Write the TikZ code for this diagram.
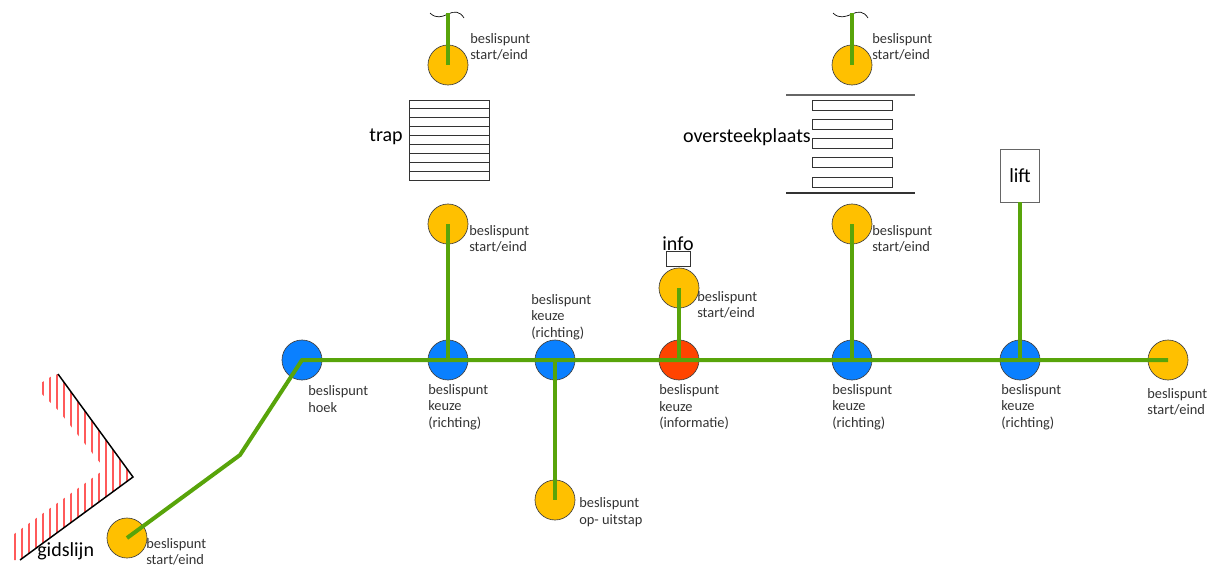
\documentclass[tikz,border=0pt]{standalone}
\usepackage{fontspec}
\setmainfont{Carlito}
\definecolor{dpyellow}{RGB}{255,192,0}
\definecolor{dpblue}{RGB}{10,128,255}
\definecolor{dpred}{RGB}{255,68,0}
\definecolor{dpgreen}{RGB}{88,164,10}
\definecolor{hatch}{RGB}{255,90,90}
\tikzset{
  dp/.style={circle, draw=black!75, line width=0.5pt, minimum size=30pt, inner sep=0pt},
  ys/.style={dp, fill=dpyellow},
  bk/.style={dp, fill=dpblue},
  rk/.style={dp, fill=dpred},
  gl/.style={draw=dpgreen, line width=3pt},
  lbl/.style={font=\fontsize{10.8}{12.4}\selectfont, align=left, inner sep=0pt, text=black!80, anchor=west},
  big/.style={font=\fontsize{15}{18}\selectfont, inner sep=0pt, text=black},
  thinline/.style={draw=black!80, line width=0.7pt},
}
\begin{document}
\begin{tikzpicture}[x=0.75pt,y=-0.75pt]
\useasboundingbox (0,0) rectangle (1217,569);

% gidslijn hatching
\begin{scope}
  \clip (58,374) -- (133,477) -- (20,560) -- (10,560) -- (10,537) -- (105,469) -- (58,410) -- (50,402) -- (41,393) -- (41,383) -- (52,376) -- cycle;
  \foreach \x in {15,22,...,134} {
    \draw[hatch, line width=1pt] (\x,365) -- (\x,565);
  }
\end{scope}
\draw[black, line width=1.1pt] (58,374) -- (133,477) -- (20,560);
\node[big, anchor=west] (gids) at (37,551) {gidslijn};

% trap
\draw[thinline] (409,100) rectangle (489,180);
\foreach \i in {1,...,8} {
  \draw[thinline] (409,{100+8.89*\i}) -- (489,{100+8.89*\i});
}
\node[big, anchor=east] (trap) at (403,137) {trap};

% oversteekplaats
\draw[draw=black!60, line width=0.9pt] (786,95) -- (915,95);
\draw[draw=black!80, line width=0.9pt] (786,193) -- (915,193);
\foreach \y in {100,119.3,138.6,157.9,177.2} {
  \draw[thinline] (812,\y) rectangle (892,{\y+10});
}
\node[big, anchor=east] (over) at (811,137) {oversteekplaats};

% info box
\node[big] (infotxt) at (678,244) {info};
\draw[thinline] (666,251) rectangle (690,266);

% lift
\node[big, draw=black!60, line width=0.7pt, minimum width=29.25pt, minimum height=39.75pt] (lift) at (1020,175.5) {lift};

% squiggles
\draw[black, line width=0.5pt] (430,13) .. controls (436,19) and (442,17) .. (448,14) .. controls (454,11) and (460,11) .. (464,18);
\draw[black, line width=0.5pt] (833,13) .. controls (839,19) and (845,17) .. (852,14) .. controls (858,11) and (864,11) .. (868,18);

% decision points
\node[ys] (t1) at (448,65) {};
\node[ys] (t2) at (448,224) {};
\node[ys] (o1) at (852,65) {};
\node[ys] (o2) at (852,224) {};
\node[ys] (inf) at (679,288) {};
\node[bk] (hoek) at (302,360) {};
\node[bk] (k1) at (448,360) {};
\node[bk] (k2) at (555,360) {};
\node[rk] (ki) at (679,360) {};
\node[bk] (k3) at (852,360) {};
\node[bk] (k4) at (1020,360) {};
\node[ys] (eind) at (1168,360) {};
\node[ys] (op) at (555,500) {};
\node[ys] (start) at (127,538) {};
\coordinate (bend) at (240,455);
\coordinate (t0) at (448,13);
\coordinate (o0) at (852,13);

% green route
\draw[gl] (start.center) -- (bend) -- (hoek.center) -- (eind.center);
\draw[gl] (t0) -- (t1.center);
\draw[gl] (t2.center) -- (k1.center);
\draw[gl] (o0) -- (o1.center);
\draw[gl] (o2.center) -- (k3.center);
\draw[gl] (inf.center) -- (ki.center);
\draw[gl] (k2.center) -- (op.center);
\draw[gl] (lift.south) -- (k4.center);

% labels
\node[lbl] (lt1) at (470,47) {beslispunt\\start/eind};
\node[lbl] (lt2) at (469,239) {beslispunt\\start/eind};
\node[lbl] (lo1) at (872,47) {beslispunt\\start/eind};
\node[lbl] (lo2) at (872,239) {beslispunt\\start/eind};
\node[lbl] (linf) at (697,305) {beslispunt\\start/eind};
\node[lbl] (lhoek) at (308,399) {beslispunt\\hoek};
\node[lbl] (lk1) at (428,407) {beslispunt\\keuze\\(richting)};
\node[lbl] (lk2) at (531,317) {beslispunt\\keuze\\(richting)};
\node[lbl] (lki) at (659,407) {beslispunt\\keuze\\(informatie)};
\node[lbl] (lk3) at (832,407) {beslispunt\\keuze\\(richting)};
\node[lbl] (lk4) at (1001,407) {beslispunt\\keuze\\(richting)};
\node[lbl] (leind) at (1147,402) {beslispunt\\start/eind};
\node[lbl] (lop) at (579,512) {beslispunt\\op- uitstap};
\node[lbl] (lstart) at (146,552) {beslispunt\\start/eind};
\end{tikzpicture}
\end{document}
